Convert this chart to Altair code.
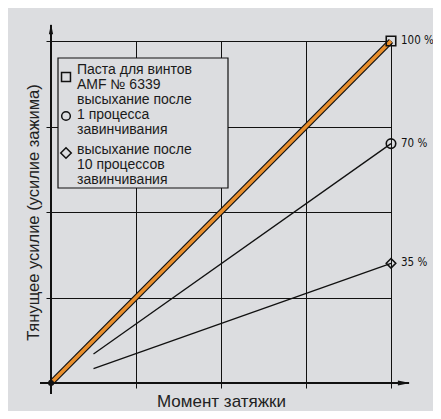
import altair as alt
import pandas as pd

# ---- data ----
series = ["100 %", "70 %", "35 %"]
x_start = [0.0, 0.5, 0.5]
y_start = [0.0, 8.5, 4.2]
x_end = [4.0, 4.0, 4.0]
y_end = [100.0, 70.0, 35.0]
marker_shapes = ["square", "circle", "diamond"]
grid_x = [0, 1, 2, 3, 4]
grid_y = [0, 25, 50, 75, 100]
legend_lines = [
    ["Паста для винтов", "AMF № 6339"],
    ["высыхание после", "1 процесса", "завинчивания"],
    ["высыхание после", "10 процессов", "завинчивания"],
]
x_title = "Момент затяжки"
y_title = "Тянущее усилие (усилие зажима)"

BG = "#dcdde0"
ORANGE = "#e98f2d"
INK = "#111111"
W, H = 340, 342

rows = []
for s, xs_, ys_, xe, ye in zip(series, x_start, y_start, x_end, y_end):
    rows.append({"series": s, "x": xs_, "y": ys_, "o": 0})
    rows.append({"series": s, "x": xe, "y": ye, "o": 1})
lines_df = pd.DataFrame(rows)
ends_df = pd.DataFrame({"series": series, "x": x_end, "y": y_end})
one = pd.DataFrame({"k": [0]})  # single row for decorations

xscale = alt.Scale(domain=[grid_x[0], grid_x[-1]], nice=False, zero=False)
yscale = alt.Scale(domain=[grid_y[0], grid_y[-1]], nice=False, zero=False)
xaxis = alt.Axis(values=grid_x, labels=False, domain=False, grid=True, gridColor=INK,
                 gridWidth=1, tickColor=INK, tickSize=5, tickWidth=1, title=x_title,
                 titleFont="Liberation Sans", titleFontSize=17, titleFontWeight="normal",
                 titleColor="#222222", titlePadding=5)
yaxis = alt.Axis(values=grid_y, labels=False, domain=False, grid=True, gridColor=INK,
                 gridWidth=1, tickColor=INK, tickSize=5, tickWidth=1, title=y_title,
                 titleFont="Liberation Sans", titleFontSize=16.5, titleFontWeight="normal",
                 titleColor="#222222", titlePadding=4)

X = alt.X("x:Q", scale=xscale, axis=xaxis)
Y = alt.Y("y:Q", scale=yscale, axis=yaxis)

thin = alt.Chart(lines_df).transform_filter(alt.datum.series != series[0]).mark_line(
    color=INK, strokeWidth=1.3).encode(x=X, y=Y, detail="series:N", order="o:Q")

main = lines_df[lines_df.series == series[0]]
main_dark = alt.Chart(main).mark_line(color=INK, strokeWidth=6).encode(x=X, y=Y, order="o:Q")
main_orange = alt.Chart(main).mark_line(color=ORANGE, strokeWidth=3.6).encode(x=X, y=Y, order="o:Q")

markers = alt.Chart(ends_df).mark_point(filled=False, color=INK, strokeWidth=1.6, size=90, opacity=1).encode(
    x=X, y=Y,
    shape=alt.Shape("series:N", scale=alt.Scale(domain=series, range=marker_shapes), legend=None))

end_labels = alt.Chart(ends_df).mark_text(align="left", baseline="middle", dx=10,
                                          font="DejaVu Sans Condensed", fontSize=11.5, color=INK).encode(
    x=X, y=Y, text="series:N")

# axes with arrows (pixel decorations)
yrule = alt.Chart(one).mark_rule(color=INK, strokeWidth=2).encode(
    x=alt.value(0), y=alt.value(-16), y2=alt.value(H + 11))
xrule = alt.Chart(one).mark_rule(color=INK, strokeWidth=2).encode(
    y=alt.value(H), x=alt.value(-11), x2=alt.value(W + 18))
up_arrow = alt.Chart(one).mark_point(shape="M0,-1L0.4,1L-0.4,1Z", filled=True, color=INK,
                                     size=110, opacity=1).encode(x=alt.value(0), y=alt.value(-12))
right_arrow = alt.Chart(one).mark_point(shape="M1,0L-1,0.4L-1,-0.4Z", filled=True, color=INK,
                                        size=150, opacity=1).encode(x=alt.value(W + 13), y=alt.value(H))
origin_dot = alt.Chart(one).mark_point(shape="circle", filled=True, color=INK, size=36,
                                       opacity=1).encode(x=alt.value(0), y=alt.value(H))

# legend box
legend_box = alt.Chart(one).mark_rect(fill=BG, stroke=INK, strokeWidth=1.2).encode(
    x=alt.value(7), x2=alt.value(177), y=alt.value(17), y2=alt.value(147))

layers = [thin, main_dark, main_orange, legend_box]

item_top = [29, 59, 109]
symbol_y = [36, 75, 112]
symbol_size = [80, 75, 110]
for k, item in enumerate(legend_lines):
    layers.append(alt.Chart(one).mark_point(shape=marker_shapes[k], filled=False, color=INK,
                                            strokeWidth=1.5, size=symbol_size[k], opacity=1).encode(
        x=alt.value(15), y=alt.value(symbol_y[k])))
    for j, line in enumerate(item):
        layers.append(alt.Chart(one).mark_text(align="left", baseline="middle",
                                               font="Liberation Sans", fontSize=14,
                                               color="#1a1a1a").encode(
            x=alt.value(26), y=alt.value(item_top[k] + 15 * j), text=alt.value(line)))

layers += [yrule, xrule, up_arrow, right_arrow, origin_dot, markers, end_labels]

chart = alt.layer(*layers).properties(
    width=W, height=H,
    autosize=alt.AutoSizeParams(type="none"),
    padding={"left": 43, "top": 33, "right": 42, "bottom": 28},
).configure(background=BG).configure_view(strokeWidth=0)

chart.save("out.html", embed_options={"renderer": "svg", "actions": False})
